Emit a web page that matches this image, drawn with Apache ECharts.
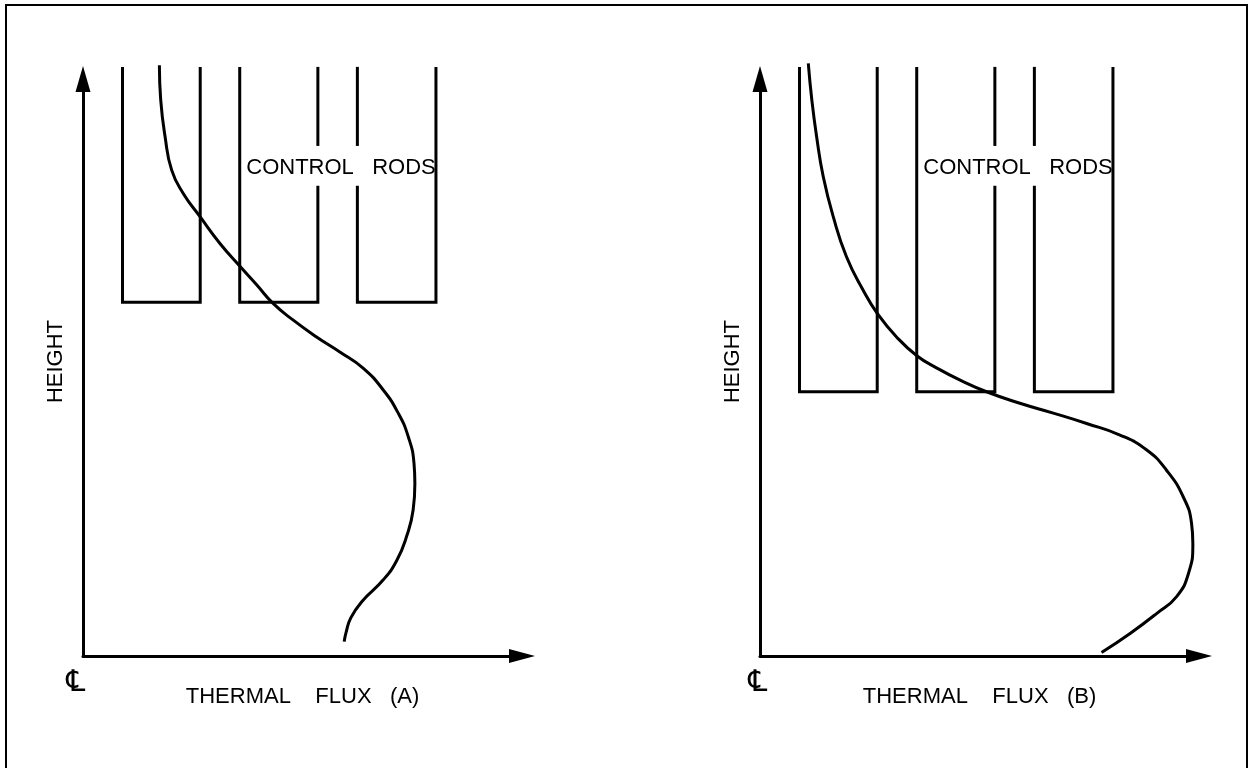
<!DOCTYPE html>
<html>
<head>
<meta charset="utf-8">
<title>Thermal flux vs height</title>
<script src="https://cdn.jsdelivr.net/npm/echarts@6.0.0/dist/echarts.min.js"></script>
<style>
  html, body { margin: 0; padding: 0; background: #fff; }
  #main { width: 1253px; height: 768px; }
</style>
</head>
<body>
<div id="main"></div>
<script>
// axis titles and labels
const fluxNames = ['THERMAL    FLUX   (A)', 'THERMAL    FLUX   (B)'];
const heightName = 'HEIGHT';
const rodLabel = 'CONTROL   RODS';
const centerMark = '\u2104';

// control rod walls (flux units) and heights
const rodLeft = [9.0, 35.7, 62.5];
const rodRight = [26.7, 53.5, 80.4];
const rodTop = 102.1;
const rodBottom = [61.3, 45.8];     // case A, case B
const labelGap = [81.5, 88.4];      // break in the middle walls for the label

// flux profile, [flux, height]
const curveA = [
    [17.4, 102.4], [17.7, 96.4], [18.7, 90.0], [20.2, 84.2], [22.8, 80.2],
    [26.7, 76.1], [31.2, 71.5], [35.8, 67.5], [39.6, 64.3], [43.3, 61.1],
    [47.9, 58.2], [53.2, 55.3], [58.5, 52.7], [63.8, 49.9], [68.4, 46.1],
    [71.8, 42.1], [74.1, 38.0], [75.4, 33.4], [75.6, 29.9], [75.2, 25.3],
    [73.7, 20.7], [71.5, 16.6], [68.4, 13.2], [63.6, 9.5], [61.0, 6.6],
    [59.9, 4.0], [59.5, 2.5]
];
const curveB = [
    [11.0, 102.7], [11.8, 96.4], [12.9, 90.0], [14.4, 83.1], [16.7, 76.1],
    [19.7, 69.2], [23.5, 63.4], [26.7, 59.4], [31.1, 55.3], [35.8, 52.0],
    [40.3, 49.9], [45.6, 47.8], [51.6, 45.8], [59.2, 43.8], [66.8, 42.1],
    [74.4, 40.3], [82.0, 38.3], [88.1, 35.7], [92.6, 32.2], [96.4, 27.6],
    [98.3, 23.0], [98.6, 19.5], [97.6, 14.3], [94.9, 10.3], [90.4, 7.4],
    [84.3, 3.9], [77.8, 0.6]
];

const chart = echarts.init(document.getElementById('main'));
const FONT = "'Liberation Sans', Arial, sans-serif";

function lineSeries(gi, points, smooth) {
    return {
        type: 'line',
        xAxisIndex: gi,
        yAxisIndex: gi,
        data: points,
        smooth: smooth || false,
        showSymbol: false,
        clip: false,
        silent: true,
        animation: false,
        lineStyle: { color: '#000', width: 3, join: 'miter', cap: 'butt' }
    };
}

// U-shaped rods, with the label gap cut out of rod 2 right wall and rod 3 left wall
function rodSeries(gi) {
    const b = rodBottom[gi];
    const L = rodLeft, R = rodRight;
    return [
        lineSeries(gi, [[L[0], rodTop], [L[0], b], [R[0], b], [R[0], rodTop]]),
        lineSeries(gi, [[L[1], rodTop], [L[1], b], [R[1], b], [R[1], labelGap[0]]]),
        lineSeries(gi, [[R[1], labelGap[1]], [R[1], rodTop]]),
        lineSeries(gi, [[L[2], rodTop], [L[2], labelGap[1]]]),
        lineSeries(gi, [[L[2], labelGap[0]], [L[2], b], [R[2], b], [R[2], rodTop]])
    ];
}

const nameStyle = { color: '#000', fontFamily: FONT, fontSize: 22 };

function xAxisFor(gi) {
    return {
        type: 'value', gridIndex: gi, min: 0, max: 100,
        name: fluxNames[gi], nameLocation: 'middle', nameGap: 30,
        nameTextStyle: nameStyle,
        axisLine: {
            show: true, onZero: false,
            symbol: ['none', 'triangle'], symbolSize: [14, 26],
            lineStyle: { color: '#000', width: 3 }
        },
        axisTick: { show: false }, axisLabel: { show: false }, splitLine: { show: false }
    };
}

function yAxisFor(gi) {
    return {
        type: 'value', gridIndex: gi, min: 0, max: 100,
        name: heightName, nameLocation: 'middle', nameGap: 16,
        nameTextStyle: Object.assign({ padding: [0, 0, 0, 12] }, nameStyle),
        axisLine: {
            show: true, onZero: false,
            symbol: ['none', 'triangle'], symbolSize: [15, 26],
            lineStyle: { color: '#000', width: 3 }
        },
        axisTick: { show: false }, axisLabel: { show: false }, splitLine: { show: false }
    };
}

const series = [].concat(
    rodSeries(0), rodSeries(1),
    [lineSeries(0, curveA, 0.5), lineSeries(1, curveB, 0.5)]
);

const option = {
    backgroundColor: '#fff',
    animation: false,
    grid: [
        { left: 83, top: 79, width: 439, height: 577, outerBoundsMode: 'none' },
        { left: 760, top: 79, width: 439, height: 577, outerBoundsMode: 'none' }
    ],
    xAxis: [xAxisFor(0), xAxisFor(1)],
    yAxis: [yAxisFor(0), yAxisFor(1)],
    series: series,
    graphic: [
        {
            type: 'rect', silent: true,
            shape: { x: 6, y: 5, width: 1241, height: 800 },
            style: { fill: 'none', stroke: '#000', lineWidth: 2 }
        },
        {
            type: 'text', x: 341, y: 168,
            style: { text: rodLabel, font: '22px ' + FONT, fill: '#000', align: 'center', verticalAlign: 'middle' }
        },
        {
            type: 'text', x: 1018, y: 168,
            style: { text: rodLabel, font: '22px ' + FONT, fill: '#000', align: 'center', verticalAlign: 'middle' }
        },
        {
            type: 'text', x: 76, y: 683,
            style: { text: centerMark, font: "30px 'DejaVu Sans'", fill: '#000', align: 'center', verticalAlign: 'middle' }
        },
        {
            type: 'text', x: 758, y: 683,
            style: { text: centerMark, font: "30px 'DejaVu Sans'", fill: '#000', align: 'center', verticalAlign: 'middle' }
        }
    ]
};

chart.setOption(option);
</script>
</body>
</html>
